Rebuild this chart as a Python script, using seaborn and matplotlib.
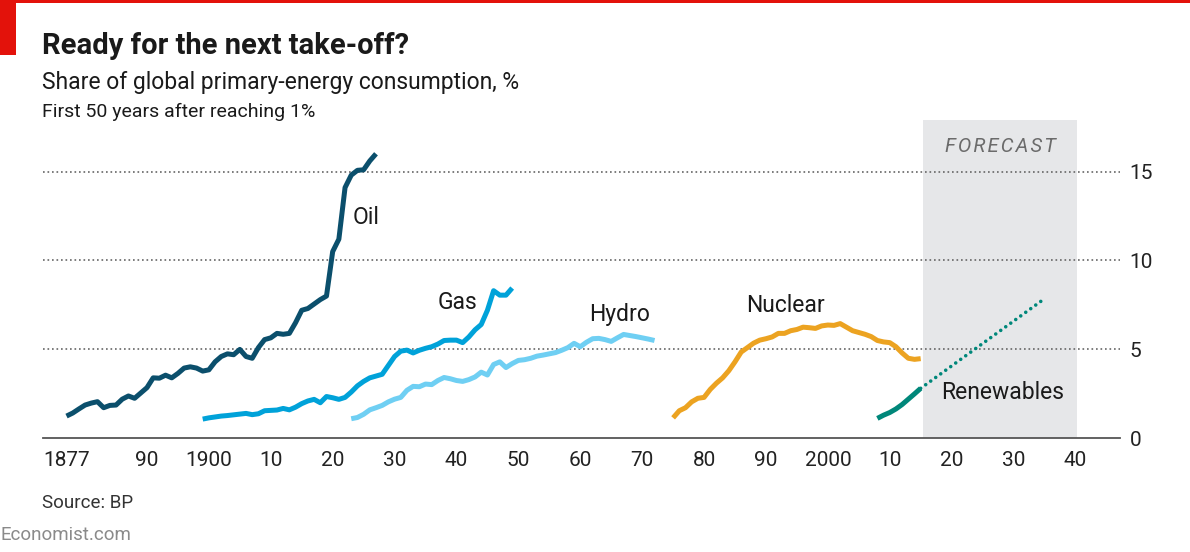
import matplotlib
matplotlib.use("Agg")
import matplotlib.pyplot as plt
from matplotlib.patches import Rectangle
import seaborn as sns
import pandas as pd

# share of global primary-energy consumption, %, first 50 years after reaching 1%
oil_years = list(range(1877, 1928))
oil_share = [1.25, 1.42, 1.65, 1.87, 1.98, 2.06, 1.72, 1.85, 1.87, 2.2,
             2.38, 2.25, 2.55, 2.85, 3.4, 3.38, 3.55, 3.4, 3.65, 3.95,
             4.02, 3.95, 3.78, 3.85, 4.3, 4.6, 4.75, 4.7, 5.0, 4.6,
             4.5, 5.1, 5.55, 5.65, 5.9, 5.85, 5.9, 6.5, 7.2, 7.3,
             7.55, 7.8, 8.0, 10.5, 11.2, 14.1, 14.8, 15.07, 15.1, 15.6,
             16.0]

gas_years = list(range(1899, 1950))
gas_share = [1.08, 1.15, 1.2, 1.25, 1.28, 1.32, 1.36, 1.4, 1.33, 1.38,
             1.55, 1.57, 1.59, 1.68, 1.6, 1.75, 1.95, 2.1, 2.19, 2.0,
             2.35, 2.28, 2.19, 2.3, 2.6, 2.95, 3.2, 3.4, 3.5, 3.6,
             4.1, 4.6, 4.9, 4.96, 4.8, 4.95, 5.06, 5.15, 5.3, 5.5,
             5.52, 5.52, 5.38, 5.7, 6.1, 6.4, 7.2, 8.3, 8.05, 8.05,
             8.45]

hydro_years = list(range(1923, 1973))
hydro_share = [1.1, 1.17, 1.35, 1.6, 1.72, 1.85, 2.05, 2.2, 2.3, 2.7,
               2.92, 2.9, 3.05, 3.02, 3.25, 3.42, 3.35, 3.25, 3.2, 3.3,
               3.45, 3.72, 3.56, 4.15, 4.3, 3.98, 4.2, 4.38, 4.42, 4.5,
               4.62, 4.68, 4.75, 4.82, 4.95, 5.1, 5.34, 5.15, 5.4, 5.6,
               5.62, 5.55, 5.45, 5.65, 5.84, 5.78, 5.72, 5.65, 5.58, 5.5]

nuclear_years = list(range(1975, 2016))
nuclear_share = [1.15, 1.55, 1.72, 2.05, 2.25, 2.3, 2.75, 3.1, 3.4, 3.8,
                 4.3, 4.85, 5.1, 5.35, 5.52, 5.6, 5.7, 5.9, 5.9, 6.05,
                 6.12, 6.25, 6.22, 6.18, 6.32, 6.37, 6.35, 6.45, 6.25, 6.05,
                 5.95, 5.85, 5.72, 5.5, 5.42, 5.38, 5.15, 4.8, 4.5, 4.44,
                 4.48]

renew_years = list(range(2008, 2016))
renew_share = [1.12, 1.3, 1.45, 1.65, 1.9, 2.2, 2.5, 2.81]

forecast_years = [2015, 2035]
forecast_share = [2.81, 7.85]

tick_years = [1877, 1880] + list(range(1890, 2041, 10))
tick_labels = ["1877", "", "90", "1900", "10", "20", "30", "40", "50", "60",
               "70", "80", "90", "2000", "10", "20", "30", "40"]

colors = {
    "Oil": "#0b4f6c",
    "Gas": "#00a2d9",
    "Hydro": "#6fcff3",
    "Nuclear": "#eca321",
    "Renewables": "#00877a",
}

frames = []
for name, yrs, vals in [("Oil", oil_years, oil_share),
                        ("Gas", gas_years, gas_share),
                        ("Hydro", hydro_years, hydro_share),
                        ("Nuclear", nuclear_years, nuclear_share),
                        ("Renewables", renew_years, renew_share)]:
    frames.append(pd.DataFrame({"source": name, "year": yrs, "share": vals}))
df = pd.concat(frames, ignore_index=True)
fc = pd.DataFrame({"year": forecast_years, "share": forecast_share})

sns.set_theme(style="white")
plt.rcParams["font.family"] = ["Liberation Sans Narrow", "Roboto", "DejaVu Sans"]

W, H = 1190, 552
fig = plt.figure(figsize=(W / 100, H / 100), dpi=100)
ax = fig.add_axes([43 / W, 1 - 438.3 / H, (1120 - 43) / W, (438.3 - 120) / H])

ax.axvspan(2015.35, 2040.3, color="#e6e7e9", lw=0, zorder=0)
for v in [5, 10, 15]:
    ax.axhline(v, color="#666666", lw=1.2, ls=(0, (1, 1.7)), zorder=1)

sns.lineplot(data=df, x="year", y="share", hue="source", palette=colors,
             linewidth=3.6, legend=False, ax=ax, zorder=3,
             solid_capstyle="butt", solid_joinstyle="round")
sns.lineplot(data=fc, x="year", y="share", color=colors["Renewables"],
             linewidth=2.6, ax=ax, zorder=3,
             linestyle=(0, (0.01, 1.7)), dash_capstyle="round")

ax.set_xlim(1873.2, 2047.2)
ax.set_ylim(0, 17.9)
ax.set_xlabel("")
ax.set_ylabel("")
ax.set_xticks(tick_years)
ax.set_xticklabels(tick_labels)
ax.set_xticks([1900, 2000], minor=True)
ax.tick_params(axis="x", which="major", direction="in", length=6, width=1,
               color="#555555", labelsize=15, labelcolor="#222222", pad=9)
ax.tick_params(axis="x", which="minor", direction="inout", length=11,
               width=1, color="#555555")
ax.yaxis.tick_right()
ax.set_yticks([0, 5, 10, 15])
ax.tick_params(axis="y", length=0, labelsize=15, labelcolor="#222222", pad=7)

for side in ["top", "left", "right"]:
    ax.spines[side].set_visible(False)
ax.spines["bottom"].set_color("#555555")
ax.spines["bottom"].set_linewidth(1.3)
ax.patch.set_alpha(0)

lab = dict(fontsize=16.5, color="#1a1a1a", va="center", ha="center")
ax.text(1925.4, 12.4, "Oil", **lab)
ax.text(1940.2, 7.66, "Gas", **lab)
ax.text(1966.4, 6.98, "Hydro", **lab)
ax.text(1993.2, 7.49, "Nuclear", **lab)
ax.text(2028.3, 2.6, "Renewables", **lab)
ax.text(2027.85, 16.4, "F\u200aO\u200aR\u200aE\u200aC\u200aA\u200aS\u200aT",
        fontsize=14.5, style="italic", color="#6b6b6b", ha="center",
        va="center")

fig.add_artist(Rectangle((0, 1 - 2.5 / H), 1, 2.5 / H, color="#e3120b",
                         transform=fig.transFigure, lw=0))
fig.add_artist(Rectangle((0, 1 - 55 / H), 16 / W, 55 / H, color="#e3120b",
                         transform=fig.transFigure, lw=0))

fig.text(42 / W, 1 - 53.5 / H, "Ready for the next take-off?", fontsize=21,
         weight="bold", color="#1a1a1a", va="baseline")
fig.text(42 / W, 1 - 89.5 / H, "Share of global primary-energy consumption, %",
         fontsize=16.5, color="#1a1a1a", va="baseline")
fig.text(42 / W, 1 - 117 / H, "First 50 years after reaching 1%", fontsize=14,
         color="#1a1a1a", va="baseline")
fig.text(42 / W, 1 - 507.5 / H, "Source: BP", fontsize=13.5, color="#333333",
         va="baseline")
fig.text(0, 1 - 540 / H, "Economist.com", fontsize=13.5, color="#8a8a8a",
         va="baseline")

fig.savefig("out.png", dpi=100)
